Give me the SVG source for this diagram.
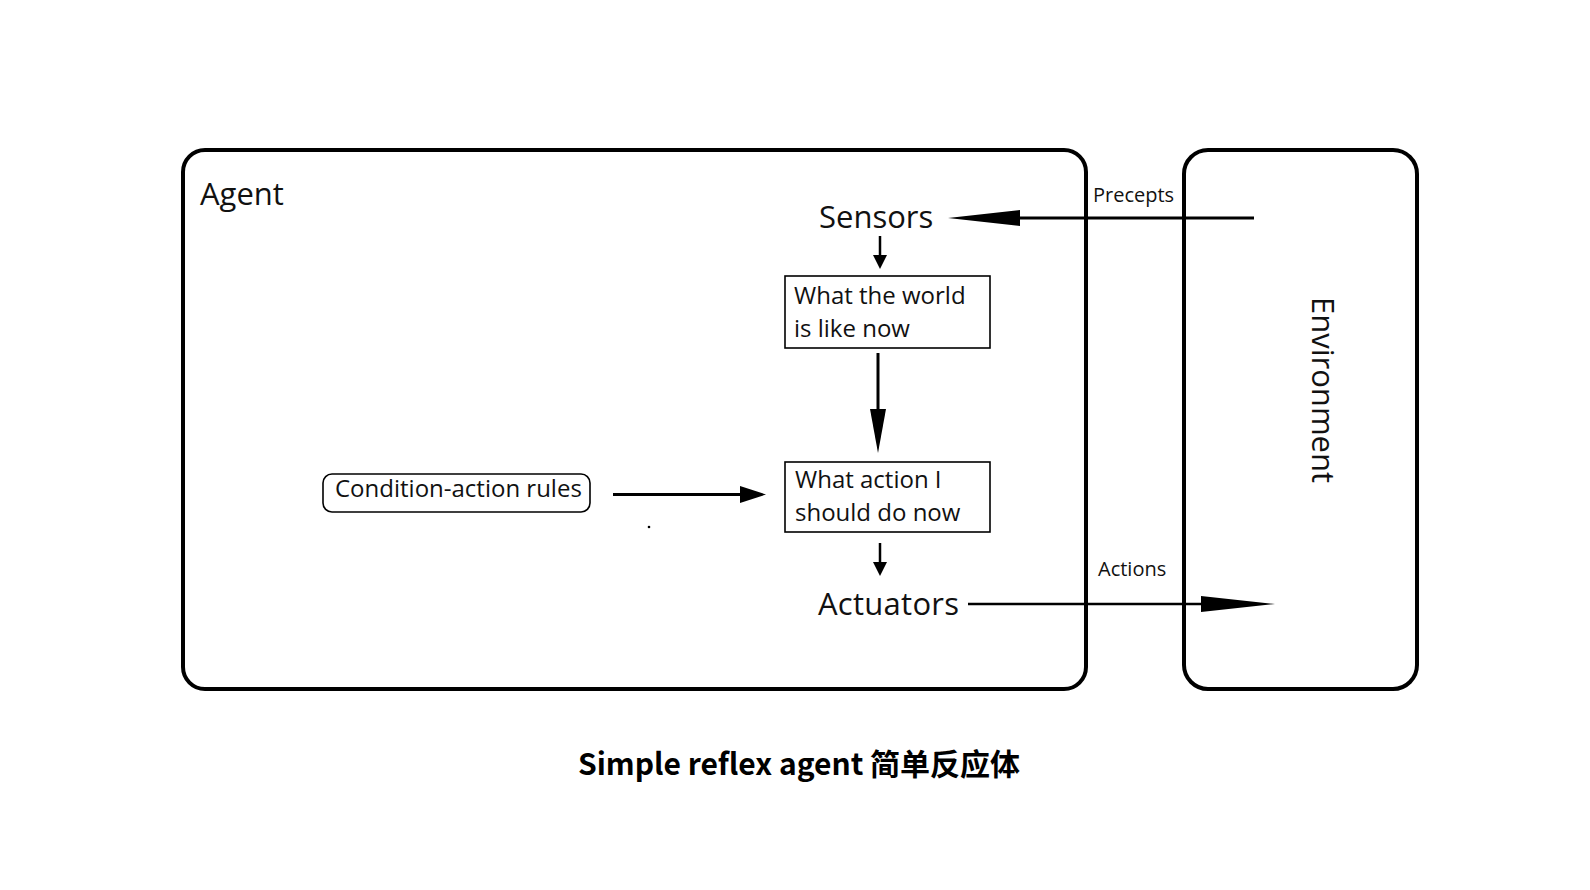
<svg xmlns="http://www.w3.org/2000/svg" width="1590" height="890" viewBox="0 0 1590 890">
<style>
.frame{fill:none;stroke:#000;stroke-width:4}
.box{fill:#fff;stroke:#000;stroke-width:1.6}
.t{font-family:"Open Sans","Liberation Sans",sans-serif;fill:#111}
.big{font-size:31px}
.mid{font-size:24px}
.small{font-size:20px}
.ln{stroke:#000;fill:none}
.head{fill:#000;stroke:none}
.cap{font-family:"Noto Sans CJK SC","Noto Sans",sans-serif;font-weight:700;font-size:30px;fill:#000}
</style>
<rect width="1590" height="890" fill="#fff"/>
<g id="agent">
<rect class="frame" x="183" y="150" width="903" height="539" rx="22"/>
<text class="t big" x="200" y="205">Agent</text>
</g>
<g id="environment">
<rect class="frame" x="1184" y="150" width="233" height="539" rx="24"/>
<text class="t big" transform="translate(1312,297) rotate(90)">Environment</text>
</g>
<g id="sensors">
<text class="t big" x="819" y="228">Sensors</text>
</g>
<g id="world-state">
<rect class="box" x="785" y="276" width="205" height="72"/>
<text class="t mid" x="794" y="304">What the world</text>
<text class="t mid" x="794" y="337">is like now</text>
</g>
<g id="action-choice">
<rect class="box" x="785" y="462" width="205" height="70"/>
<text class="t mid" x="795" y="488">What action I</text>
<text class="t mid" x="795" y="521">should do now</text>
</g>
<g id="rules">
<rect class="box" x="323" y="474" width="267" height="38" rx="9"/>
<text class="t mid" x="335" y="497">Condition-action rules</text>
</g>
<g id="actuators">
<text class="t big" x="818" y="615" textLength="141">Actuators</text>
</g>
<g id="connectors">
<line class="ln" x1="1254" y1="218" x2="1015" y2="218" stroke-width="3"/>
<polygon class="head" points="1020,210 1020,226 948,218"/>
<text class="t small" x="1093" y="202">Precepts</text>
<line class="ln" x1="880" y1="236" x2="880" y2="257" stroke-width="2.5"/>
<polygon class="head" points="873,255 887,255 880,269"/>
<line class="ln" x1="878" y1="353" x2="878" y2="412" stroke-width="3"/>
<polygon class="head" points="870,409 886,409 878,453"/>
<line class="ln" x1="613" y1="494.5" x2="742" y2="494.5" stroke-width="3"/>
<polygon class="head" points="740,486 740,503 766,494.5"/>
<line class="ln" x1="880" y1="543" x2="880" y2="564" stroke-width="2.5"/>
<polygon class="head" points="873,562 887,562 880,576"/>
<line class="ln" x1="968" y1="604" x2="1204" y2="604" stroke-width="2.5"/>
<polygon class="head" points="1201,596 1201,612 1275,604"/>
<text class="t small" x="1098" y="576">Actions</text>
</g>
<circle cx="649" cy="527" r="1.3" fill="#000"/>
<text class="cap" x="799" y="775" text-anchor="middle">Simple reflex agent 简单反应体</text>
</svg>
